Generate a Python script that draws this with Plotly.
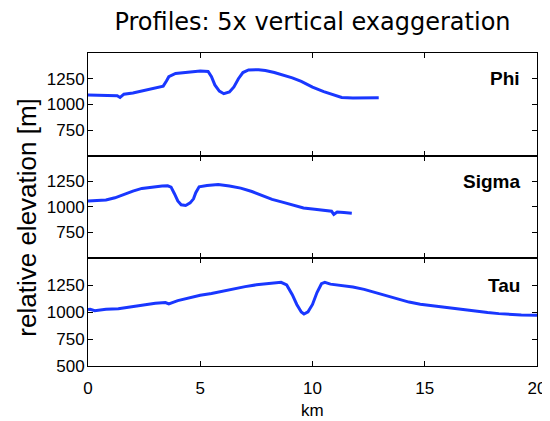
import plotly.graph_objects as go

# ---- data ----
phi_km = [0.0, 0.5, 1.0, 1.3, 1.43, 1.6, 2.0, 2.5, 2.8, 3.1, 3.35, 3.5, 3.6, 3.9, 4.5, 5.0, 5.35, 5.5,
          5.65, 5.85, 6.05, 6.3, 6.5, 6.7, 6.9, 7.15, 7.6, 7.9, 8.3, 8.7, 9.1, 9.5, 10.0, 10.5, 11.0,
          11.3, 11.8, 12.4, 12.95]
phi_elev = [1092, 1088, 1090, 1086, 1068, 1100, 1112, 1138, 1150, 1165, 1178, 1230, 1270, 1302, 1315,
            1325, 1320, 1270, 1190, 1130, 1105, 1122, 1170, 1250, 1310, 1335, 1338, 1330, 1310, 1285,
            1258, 1225, 1168, 1125, 1085, 1068, 1062, 1064, 1066]

sigma_km = [0.0, 0.5, 0.8, 1.2, 1.6, 2.0, 2.4, 2.9, 3.3, 3.55, 3.7, 3.85, 4.0, 4.15, 4.35, 4.55, 4.7,
            4.8, 4.95, 5.3, 5.8, 6.3, 6.8, 7.3, 7.8, 8.2, 8.7, 9.1, 9.6, 10.1, 10.6, 10.85, 10.95,
            11.1, 11.4, 11.75]
sigma_elev = [1058, 1062, 1068, 1090, 1125, 1155, 1182, 1198, 1205, 1208, 1195, 1130, 1060, 1022,
              1015, 1040, 1080, 1140, 1198, 1210, 1220, 1205, 1185, 1152, 1110, 1075, 1045, 1018,
              990, 978, 968, 958, 928, 950, 945, 938]

tau_km = [0.0, 0.1, 0.3, 0.8, 1.35, 1.8, 2.5, 3.0, 3.45, 3.6, 4.0, 4.5, 5.0, 5.5, 6.0, 6.5, 7.0, 7.5,
          8.0, 8.6, 8.85, 9.1, 9.3, 9.5, 9.62, 9.8, 10.0, 10.2, 10.4, 10.55, 10.8, 11.2, 11.8, 12.3,
          12.8, 13.3, 13.8, 14.3, 14.8, 15.3, 15.8, 16.3, 16.8, 17.3, 17.8, 18.3, 18.8, 19.3, 20.0]
tau_elev = [1022, 1025, 1012, 1025, 1031, 1045, 1068, 1080, 1088, 1076, 1105, 1132, 1155, 1172, 1195,
            1215, 1235, 1252, 1265, 1275, 1250, 1160, 1070, 1000, 982, 1002, 1070, 1180, 1262, 1275,
            1258, 1250, 1232, 1210, 1180, 1145, 1118, 1092, 1072, 1058, 1048, 1035, 1020, 1008, 995,
            985, 975, 972, 970]

panel_names = ["Phi", "Sigma", "Tau"]
x_ticks = [0, 5, 10, 15, 20]
y_ticks_upper = [750, 1000, 1250]
y_ticks_bottom = [500, 750, 1000, 1250]

title_text = "Profiles: 5x vertical exaggeration"
y_title = "relative elevation [m]"
x_title = "km"

LINE = "rgb(25,55,255)"
FONT = "Liberation Sans, Arial, sans-serif"

series = [(phi_km, phi_elev), (sigma_km, sigma_elev), (tau_km, tau_elev)]
domains = [[0.671, 1.0], [0.345, 0.671], [0.0, 0.345]]

fig = go.Figure()
for i, (xs, ys) in enumerate(series):
    n = "" if i == 0 else str(i + 1)
    fig.add_trace(go.Scatter(x=xs, y=ys, mode="lines", xaxis="x" + n, yaxis="y" + n,
                             line=dict(color=LINE, width=3), showlegend=False, hoverinfo="skip"))

axis_common = dict(showline=True, linecolor="black", linewidth=1, mirror="ticks", ticks="inside",
                   ticklen=5, tickcolor="black", showgrid=False, zeroline=False,
                   tickfont=dict(family=FONT, size=17, color="black"))

layout = dict(width=550, height=421, plot_bgcolor="white", paper_bgcolor="white",
              margin=dict(l=80, r=21, t=45, b=63),
              title=dict(text=title_text, x=0.5, xref="paper", xanchor="center",
                         y=1 - 14 / 421, yref="container", yanchor="middle",
                         font=dict(family="DejaVu Sans, sans-serif", size=24, color="black")))

annotations = []
for i in range(3):
    n = "" if i == 0 else str(i + 1)
    layout["xaxis" + n] = dict(axis_common, range=[0, 20], tickvals=x_ticks, anchor="y" + n,
                               showticklabels=(i == 2), domain=[0, 1],
                               ticklabelstandoff=(7 if i == 2 else 0))
    layout["yaxis" + n] = dict(axis_common, range=[500, 1500], anchor="x" + n, domain=domains[i],
                               tickvals=(y_ticks_bottom if i == 2 else y_ticks_upper),
                               ticklabelstandoff=-1)
    annotations.append(dict(text="<b>" + panel_names[i] + "</b>", x=19.35, y=1250,
                            xref="x" + n, yref="y" + n, xanchor="right", yanchor="middle",
                            showarrow=False, font=dict(family=FONT, size=19, color="black")))

annotations.append(dict(text=y_title, x=(27 - 88) / 449, y=0.474, xref="paper", yref="paper",
                        textangle=-90, showarrow=False, xanchor="center", yanchor="middle",
                        font=dict(family=FONT, size=26, color="black")))
annotations.append(dict(text=x_title, x=0.5, y=(358 - 402) / 313, xref="paper", yref="paper",
                        showarrow=False, xanchor="center", yanchor="middle",
                        font=dict(family=FONT, size=17, color="black")))
layout["annotations"] = annotations

fig.update_layout(**layout)
fig.write_html("out.html")
